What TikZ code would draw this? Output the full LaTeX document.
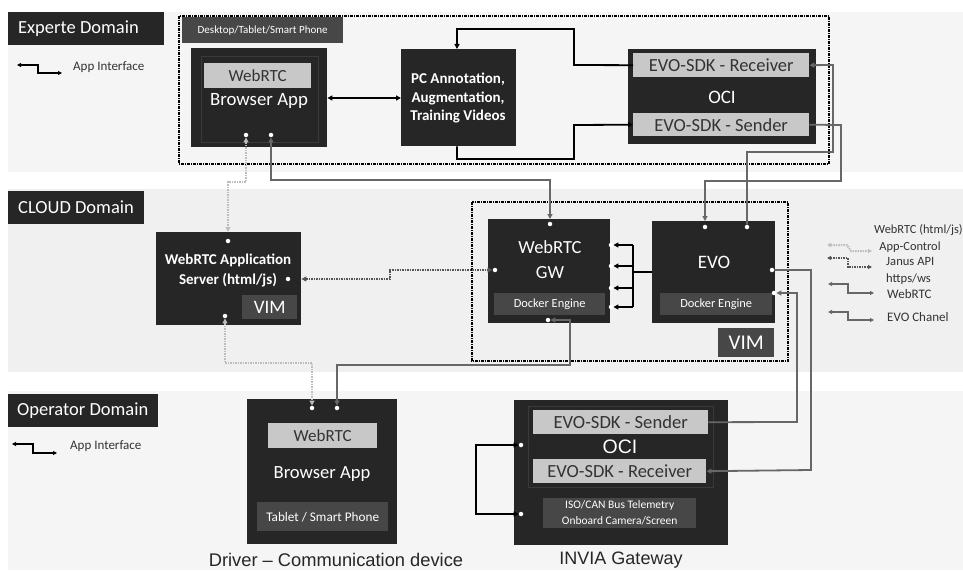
\documentclass[tikz,border=0pt]{standalone}
\usepackage{fontspec}
\setmainfont{Carlito}
\newfontfamily\arialf{Liberation Sans}
\usetikzlibrary{arrows.meta}
\definecolor{boxc}{HTML}{262626}
\definecolor{innerc}{HTML}{3A3A3A}
\definecolor{barc}{HTML}{C8C8C8}
\definecolor{subc}{HTML}{474747}
\definecolor{bandA}{HTML}{F5F5F5}
\definecolor{bandB}{HTML}{F0F0F0}
\definecolor{grayln}{HTML}{676767}
\definecolor{lgray}{HTML}{BDBDBD}
\definecolor{dgray}{HTML}{555555}
\definecolor{txtc}{HTML}{333333}
\newcommand\fsz[2]{\fontsize{#1}{#2}\selectfont}
\tikzset{
  darkbox/.style={fill=boxc, draw=none, inner sep=0pt, anchor=north west},
  barbox/.style={fill=barc, draw=none, inner sep=0pt, anchor=north west},
  subbox/.style={fill=subc, draw=none, inner sep=0pt, anchor=north west},
  domtxt/.style={text=white, inner sep=0pt, anchor=west, font=\fsz{18.5}{20}},
  wtxt/.style={text=white, inner sep=0pt, align=center},
  btxt/.style={text=txtc, inner sep=0pt, align=center},
  pdot/.style={circle, fill=white, draw=none, inner sep=0pt, minimum size=4.5pt},
  blk/.style={draw=black, line width=1.8pt, arrows={-Triangle[length=5pt,width=5pt]}},
  gry/.style={draw=grayln, line width=1.8pt},
  lgdot/.style={draw=lgray, line width=2pt, dash pattern=on 1.5pt off 1pt},
  dgdot/.style={draw=dgray, line width=2pt, dash pattern=on 1.5pt off 1pt},
  dashframe/.style={draw=black, line width=1.2pt, dash pattern=on 3pt off 1pt on 1pt off 1pt},
  both/.style={arrows={Triangle[length=5pt,width=5pt]-Triangle[length=5pt,width=5pt]}},
  lboth/.style={arrows={Triangle[length=4pt,width=4pt]-Triangle[length=4pt,width=4pt]}},
}
\begin{document}
\begin{tikzpicture}[x=1pt,y=-1pt]
\useasboundingbox[fill=white] (0,0) rectangle (963,572);
% bands
\fill[bandA] (8,12) rectangle (963,172);
\fill[bandB] (8,189) rectangle (963,372);
\fill[bandA] (8,391) rectangle (963,570);
% domain labels
\node[darkbox, minimum width=156pt, minimum height=33pt] (expL) at (8,12) {};
\node[domtxt] (expT) at ([xshift=10pt]expL.west) {Experte Domain};
\node[darkbox, minimum width=136pt, minimum height=33pt] (cldL) at (8,191) {};
\node[domtxt] (cldT) at ([xshift=10pt]cldL.west) {CLOUD Domain};
\node[darkbox, minimum width=150pt, minimum height=33pt] (opL) at (8,394) {};
\node[domtxt] (opT) at ([xshift=9pt]opL.west) {Operator Domain};
% legends left
\draw[line width=1.5pt, lboth] (17,65) -- (38,65) -- (38,73) -- (62,73);
\node[btxt, anchor=west, font=\fsz{13}{14}] (legA) at (73,67) {App Interface};
\draw[line width=1.5pt, lboth] (12,444) -- (33,444) -- (33,453) -- (57,453);
\node[btxt, anchor=west, font=\fsz{13}{14}] (legB) at (70,446) {App Interface};

% ===== Experte domain =====
\draw[dashframe] (179,16) rectangle (829,164);
\node[subbox, minimum width=161pt, minimum height=26pt, text=white, font=\fsz{11}{12}] (tab) at (182,17) {Desktop/Tablet/Smart Phone};
\node[darkbox, minimum width=136pt, minimum height=99pt] (eb) at (191,48) {};
\draw[innerc, line width=1pt] (201,57) rectangle (318,143);
\node[barbox, minimum width=107pt, minimum height=25pt, text=txtc, font=\fsz{17}{18}] (ebw) at (204,63) {WebRTC};
\node[wtxt, font=\fsz{18.8}{20}] (ebt) at (259,101) {Browser App};
\node[pdot] (eb1) at (246,135) {};
\node[pdot] (eb2) at (271,135) {};

\node[darkbox, minimum width=115pt, minimum height=97pt] (pc) at (401,49) {};
\node[wtxt, font=\bfseries\fsz{15}{18.5}] (pct) at (458,98) {PC Annotation,\\Augmentation,\\Training Videos};

\node[darkbox, minimum width=188pt, minimum height=95pt] (oci) at (628,49) {};
\node[barbox, minimum width=176pt, minimum height=24pt, text=txtc, font=\fsz{18.5}{20}] (rcv) at (633,53) {EVO-SDK - Receiver};
\node[barbox, minimum width=176pt, minimum height=23pt, text=txtc, font=\fsz{18.5}{20}] (snd) at (633,113) {EVO-SDK - Sender};
\node[wtxt, font=\fsz{19}{20}] (ocit) at (722,97) {OCI};

% black connectors top
\draw[blk, both] (eb.east |- 0,98) -- (pc.west |- 0,98);
\draw[blk] (rcv.west) -- (574,65) -- (574,29) -- (457,29) -- (pc.north -| 457,0);
\draw[blk] (pc.south -| 457,0) -- (457,159) -- (574,159) -- (574,125) -- (snd.west);

% ===== Cloud domain =====
\draw[dashframe] (472,202) rectangle (788,361);
\node[darkbox, minimum width=145pt, minimum height=93pt] (srv) at (156,232) {};
\node[wtxt, font=\bfseries\fsz{15}{20}] (srvt) at (228,270) {WebRTC Application\\Server (html/js)};
\node[subbox, minimum width=55pt, minimum height=24pt, text=white, font=\fsz{19}{20}] (vim1) at (242,295) {VIM};
\node[pdot] (srvT) at (228,241) {};
\node[pdot] (srvR) at (288,279) {};
\node[pdot] (srvB) at (225,316) {};

\node[darkbox, minimum width=122pt, minimum height=104pt] (gw) at (488,219) {};
\node[wtxt, font=\fsz{18.5}{25}] (gwt) at (550,260) {WebRTC\\GW};
\node[subbox, minimum width=111pt, minimum height=22pt, text=white, font=\fsz{12.4}{13}] (gwd) at (494,293) {Docker Engine};
\node[pdot] (gwT) at (550,224) {};
\node[pdot] (gwL) at (495,270) {};
\node[pdot] (gwR1) at (611,245) {};
\node[pdot] (gwR2) at (611,266) {};
\node[pdot] (gwR3) at (611,288) {};
\node[pdot] (gwR4) at (611,307) {};
\node[pdot] (gwB) at (548,320) {};

\node[darkbox, minimum width=123pt, minimum height=102pt] (evo) at (652,221) {};
\node[wtxt, font=\fsz{19}{20}] (evot) at (714,262) {EVO};
\node[subbox, minimum width=112pt, minimum height=22pt, text=white, font=\fsz{12.4}{13}] (evod) at (660,293) {Docker Engine};
\node[pdot] (evoT1) at (705,227) {};
\node[pdot] (evoT2) at (747,227) {};
\node[pdot] (evoR) at (772,270) {};
\node[pdot] (evoR2) at (774,293) {};
\node[subbox, minimum width=56pt, minimum height=29pt, text=white, font=\fsz{21}{22}] (vim2) at (718,328) {VIM};

% bus EVO -> GW
\coordinate (busJ) at (633,272);
\draw[draw=black, line width=2pt] (evo.west |- busJ) -- (busJ);
\draw[draw=black, line width=2pt] (633,245) -- (633,307);
\foreach \i in {1,2,3,4} {\draw[blk] (633,0 |- gwR\i) -- (gwR\i);}

% ===== Operator domain =====
\node[darkbox, minimum width=150pt, minimum height=145pt] (ob) at (247,399) {};
\node[barbox, minimum width=109pt, minimum height=25pt, text=txtc, font=\fsz{17}{18}] (obw) at (268,423) {WebRTC};
\node[wtxt, font=\fsz{18.6}{20}] (obt) at (322,474) {Browser App};
\node[subbox, minimum width=131pt, minimum height=29pt, text=white, font=\fsz{13.2}{14}] (obs) at (257,502) {Tablet / Smart Phone};
\node[pdot] (obL) at (312,408) {};
\node[pdot] (obR) at (337,408) {};
\node[text=black!85, inner sep=0pt, font=\arialf\fsz{18.3}{20}] (obcap) at (336,560) {Driver – Communication device};

\node[darkbox, minimum width=214pt, minimum height=145pt] (inv) at (514,400) {};
\draw[innerc, line width=1pt] (528,406) rectangle (713,487);
\node[barbox, minimum width=175pt, minimum height=24pt, text=txtc, font=\fsz{18.6}{20}] (isnd) at (533,410) {EVO-SDK - Sender};
\node[wtxt, font=\arialf\fsz{19.5}{20}] (ioci) at (620,447) {OCI};
\node[barbox, minimum width=173pt, minimum height=24pt, text=txtc, font=\fsz{18.5}{20}] (ircv) at (533,459) {EVO-SDK - Receiver};
\node[subbox, minimum width=153pt, minimum height=30pt, text=white, align=center, font=\fsz{11.5}{16}] (iso) at (543,498) {ISO/CAN Bus Telemetry\\Onboard Camera/Screen};
\node[pdot] (invL1) at (521,445) {};
\node[pdot] (invL2) at (521,514) {};
\node[text=black!85, inner sep=0pt, font=\arialf\fsz{18}{20}] (invcap) at (621,560) {INVIA Gateway};
\draw[blk, both] (invL1) -- (476,445) -- (476,514) -- (invL2);

% ===== gray connectors =====
\draw[gry, both] (eb2) -- (271,180) -- (550,180) -- (gw.north -| gwT);
\draw[gry, arrows={Triangle[length=5pt,width=5pt]-}] (rcv.east) -- (833,65) -- (833,152) -- (747,152) -- (evoT2);
\draw[gry, arrows={-Triangle[length=5pt,width=5pt]}] (snd.east) -- (841,125) -- (841,181) -- (705,181) -- (evo.north -| evoT1);
\draw[gry, both] (gwB) -- (570,320) -- (570,365) -- (337,365) -- (obR);
\draw[gry, arrows={-Triangle[length=5pt,width=5pt]}] (evoR) -- (811,270) -- (811,470) -- (ircv.east);
\draw[gry, arrows={-Triangle[length=5pt,width=5pt]}] (isnd.east) -- (797,422) -- (797,293) -- (evoR2);

% ===== dotted connectors =====
\draw[lgdot, both] (eb1) -- (246,182) -- (228,182) -- (srv.north -| srvT);
\draw[lgdot, both] (srvB) -- (225,363) -- (312,363) -- (obL);
\draw[dgdot, both] (srv.east |- srvR) -- (390,279) -- (390,270) -- (gwL);

% ===== right legend =====
\draw[lgdot, lboth] (827,245) -- (847,245) -- (851,251) -- (872,251);
\node[btxt, anchor=west, font=\fsz{12.4}{13}] (lg1) at (874,230) {WebRTC (html/js)};
\node[btxt, font=\fsz{12.4}{13}] (lg1b) at (910,247) {App-Control};
\draw[dgdot, lboth] (827,258) -- (848,258) -- (848,267) -- (872,267);
\node[btxt, anchor=west, font=\fsz{12.6}{13}] (lg2) at (886,262) {Janus API};
\node[btxt, anchor=west, font=\fsz{12.6}{13}] (lg2c) at (886,279) {https/ws};
\draw[gry, lboth] (828,284) -- (848,284) -- (848,293) -- (874,293);
\node[btxt, anchor=west, font=\fsz{13}{14}] (lg3) at (887,294) {WebRTC};
\draw[gry, lboth] (828,312) -- (848,312) -- (848,320) -- (874,320);
\node[btxt, anchor=west, font=\fsz{13}{14}] (lg4) at (887,317) {EVO Chanel};
\end{tikzpicture}
\end{document}
